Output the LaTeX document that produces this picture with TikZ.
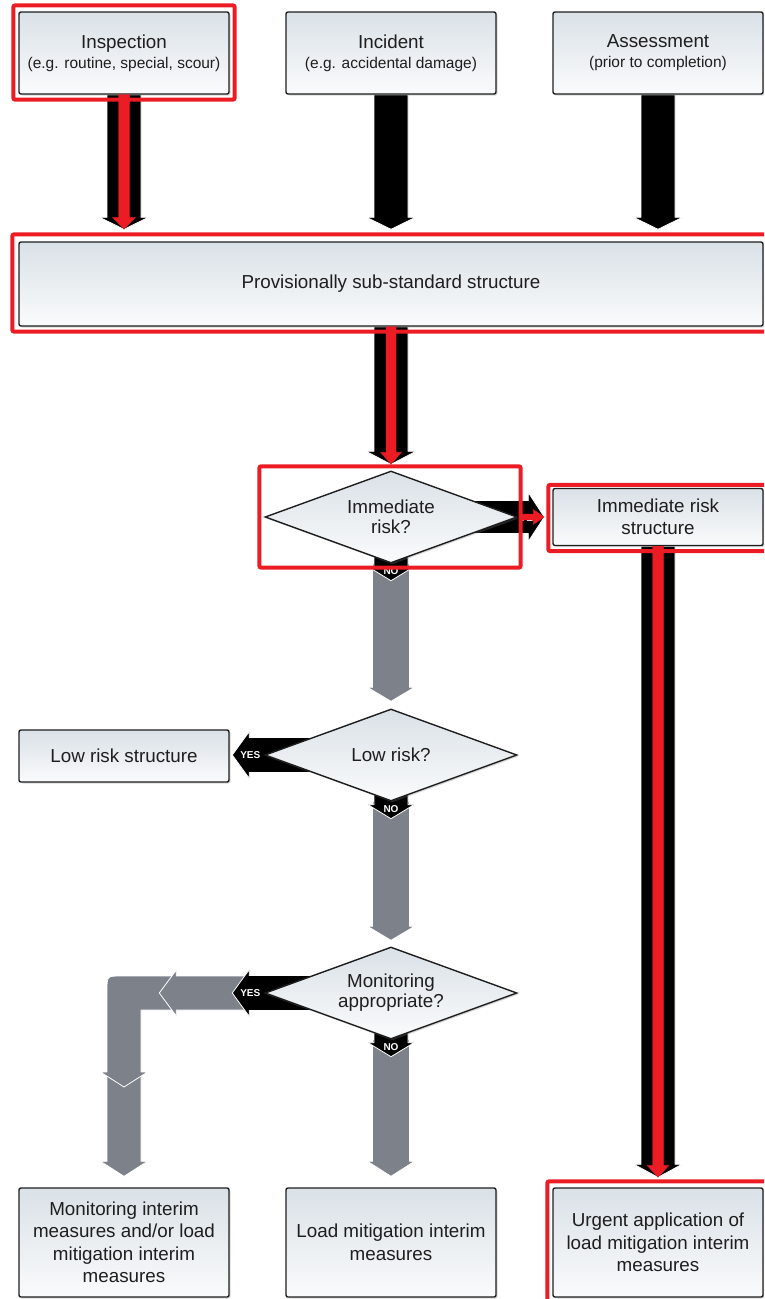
\documentclass[tikz,border=0pt]{standalone}
\usepackage{fontspec}
\setmainfont{Liberation Sans}
\usetikzlibrary{shapes.geometric,calc,shadows}
\pgfdeclarelayer{background}
\pgfsetlayers{background,main}

\definecolor{arrowgrey}{RGB}{125,129,138}
\definecolor{flagred}{RGB}{236,28,36}
\definecolor{boxtop}{RGB}{218,225,231}
\definecolor{boxbottom}{RGB}{250,251,252}
\definecolor{ink}{RGB}{30,30,30}

% fat arrow: [style] {from} {tip} {half shaft} {half head} {head length}
\newcommand{\fatarrow}[6][]{%
  \path (#2) coordinate (fa-s) (#3) coordinate (fa-t);
  \path ($(fa-t)!#6!(fa-s)$) coordinate (fa-b);
  \filldraw[#1] ($(fa-s)!#4!-90:(fa-t)$) -- ($(fa-b)!#4!90:(fa-s)$)
    -- ($(fa-b)!#5!90:(fa-s)$) -- (fa-t) -- ($(fa-b)!#5!-90:(fa-s)$)
    -- ($(fa-b)!#4!-90:(fa-s)$) -- ($(fa-s)!#4!90:(fa-t)$) -- cycle;}

\begin{document}
\begin{tikzpicture}[x=1pt,y=-1pt,
    box/.style={rectangle, rounded corners=2pt, draw=ink, line width=1.4pt,
      top color=boxtop, bottom color=boxbottom, text=ink, align=center,
      inner sep=0pt, minimum width=210pt,
      font=\fontsize{18.8}{22.5}\selectfont,
      drop shadow={shadow xshift=1.5pt, shadow yshift=-1.5pt, opacity=0.3}},
    topbox/.style={box, minimum height=82pt, font=\fontsize{18.8}{20}\selectfont},
    question/.style={diamond, shape aspect=2.74, minimum width=252pt,
      minimum height=92pt, inner sep=0pt, draw=ink, line width=1.4pt,
      top color=boxtop, bottom color=boxbottom, text=ink, align=center,
      font=\fontsize{18.8}{20}\selectfont,
      drop shadow={shadow xshift=1.5pt, shadow yshift=-1.5pt, opacity=0.3}},
    flag/.style={draw=flagred, line width=4pt, rounded corners=2pt},
    tag/.style={text=white, inner sep=0pt, font=\bfseries\fontsize{10}{10}\selectfont},
    blackfat/.style={fill=black, draw=white, line width=0.8pt},
    greyfat/.style={fill=arrowgrey, draw=white, line width=0.8pt},
    redfat/.style={fill=flagred, draw=flagred, line width=0.2pt}]
  \useasboundingbox (0,0) rectangle (764,1299);
  \clip (0,0) rectangle (764,1299);

  % sources
  \node[topbox] (insp) at (124,53) {Inspection\\{\fontsize{15.5}{20}\selectfont (e.g. routine, special, scour)}};
  \node[topbox] (inci) at (391,53) {Incident\\{\fontsize{15.5}{20}\selectfont (e.g. accidental damage)}};
  \node[topbox] (asse) at (658,53) {Assessment\\{\fontsize{15.5}{20}\selectfont (prior to completion)}};
  \node[box, minimum width=744pt, minimum height=84pt] (prov) at (391,284) {Provisionally sub-standard structure};

  % decisions
  \node[question] (imr) at (391,517) {Immediate\\risk?};
  \node[box, minimum height=57pt] (imrs) at (658,517) {Immediate risk\\structure};
  \node[question] (low) at (391,755) {Low risk?};
  \node[box, minimum height=52pt] (lows) at (124,756) {Low risk structure};
  \node[question] (mon) at (391,993) {Monitoring\\appropriate?};

  % outcomes
  \node[box, minimum height=109pt] (b1) at (124,1242.5) {Monitoring interim\\measures and/or load\\mitigation interim\\measures};
  \node[box, minimum height=109pt] (b2) at (391,1242.5) {Load mitigation interim\\measures};
  \node[box, minimum height=109pt] (urg) at (658,1242.5) {Urgent application of\\load mitigation interim\\measures};

  \coordinate (t1) at ($(prov.north -| insp.south)+(0,-12)$);
  \coordinate (t2) at ($(prov.north -| inci.south)+(0,-12)$);
  \coordinate (t3) at ($(prov.north -| asse.south)+(0,-12)$);
  \coordinate (t4) at ($(imr.north)+(0,-6)$);
  \coordinate (t5) at ($(imrs.west)+(-8,0)$);
  \coordinate (t6) at ($(urg.north)+(0,-10)$);
  \coordinate (t7) at ($(low.north)+(0,-7)$);
  \coordinate (t8) at ($(mon.north)+(0,-6)$);
  \coordinate (t9) at ($(b2.north)+(0,-11)$);
  \coordinate (t10) at ($(b1.north)+(0,-11)$);
  \coordinate (n1) at ($(imr.south)+(0,17)$);
  \coordinate (n2) at ($(low.south)+(0,17)$);
  \coordinate (n3) at ($(mon.south)+(0,17)$);
  \coordinate (y1) at ($(low.west)+(-32,0)$);
  \coordinate (y2) at ($(mon.west)+(-32,0)$);
  \coordinate (ya) at ($(mon.west)+(-105,0)$);
  \coordinate (elb) at (b1.north |- mon.west);
  \coordinate (yc) at ($(elb)+(0,80)$);

  \begin{pgfonlayer}{background}
    \fatarrow[blackfat]{insp.south}{t1}{17pt}{24.5pt}{12pt}
    \fatarrow[blackfat]{inci.south}{t2}{17pt}{24.5pt}{12pt}
    \fatarrow[blackfat]{asse.south}{t3}{17pt}{24.5pt}{12pt}
    \fatarrow[blackfat]{prov.south}{t4}{17pt}{25pt}{13pt}
    \fatarrow[blackfat]{imr.center}{t5}{16.5pt}{24.5pt}{16pt}
    \node[tag] at ($(imr.east)+(12,1)$) {YES};
    \fatarrow[blackfat]{imrs.south}{t6}{17pt}{24pt}{13pt}
    % no branches
    \fatarrow[greyfat]{imr.south}{t7}{18.5pt}{23.5pt}{14pt}
    \fatarrow[blackfat]{imr.center}{n1}{17pt}{23pt}{14pt}
    \node[tag] at ($(imr.south)+(0,7)$) {NO};
    \fatarrow[greyfat]{low.south}{t8}{18.5pt}{23.5pt}{14pt}
    \fatarrow[blackfat]{low.center}{n2}{17pt}{23pt}{14pt}
    \node[tag] at ($(low.south)+(0,7)$) {NO};
    \fatarrow[greyfat]{mon.south}{t9}{18.5pt}{23.5pt}{15pt}
    \fatarrow[blackfat]{mon.center}{n3}{17pt}{23pt}{14pt}
    \node[tag] at ($(mon.south)+(0,7)$) {NO};
    % yes branches
    \fatarrow[blackfat]{low.center}{y1}{17.5pt}{23.5pt}{17pt}
    \node[tag] at ($(low.west)+(-14,0)$) {YES};
    \fatarrow[greyfat]{yc}{t10}{17pt}{23.5pt}{15pt}
    \filldraw[greyfat] ($(elb)+(56,-17)$) -- ($(elb)+(-3,-17)$)
      .. controls ($(elb)+(-17,-17)$) .. ($(elb)+(-17,-3)$)
      -- ($(elb)+(-17,79)$) -- ($(elb)+(-23.5,79)$) -- ($(elb)+(0,94)$)
      -- ($(elb)+(23.5,79)$) -- ($(elb)+(17,79)$) -- ($(elb)+(17,17)$)
      -- ($(elb)+(56,17)$) -- cycle;
    \fatarrow[greyfat]{$(mon.west)+(-15,0)$}{ya}{17pt}{23pt}{17pt}
    \fatarrow[blackfat]{mon.center}{y2}{17.5pt}{23.5pt}{17pt}
    \node[tag] at ($(mon.west)+(-14,0)$) {YES};
  \end{pgfonlayer}

  % highlighted route
  \fatarrow[redfat]{insp.south}{t1}{5.5pt}{11.5pt}{12pt}
  \fatarrow[redfat]{prov.south}{t4}{5pt}{10.5pt}{12pt}
  \fatarrow[redfat]{$(imr.east)+(4,0)$}{t5}{3pt}{7.5pt}{11pt}
  \fatarrow[redfat]{imrs.south}{t6}{5.5pt}{11pt}{12pt}
  \draw[flag] ([shift={(-5,-6)}]insp.north west) rectangle ([shift={(5,5)}]insp.south east);
  \draw[flag] ([shift={(-6,-7)}]prov.north west) rectangle ([shift={(8,5)}]prov.south east);
  \draw[flag] ($(imr.west |- imr.north)+(-5,-4)$) rectangle ($(imr.east |- imr.south)+(3,4)$);
  \draw[flag] ([shift={(-4,-3)}]imrs.north west) rectangle ([shift={(8,5)}]imrs.south east);
  \draw[flag] ([shift={(-5,-6)}]urg.north west) rectangle ([shift={(8,8)}]urg.south east);
\end{tikzpicture}
\end{document}
